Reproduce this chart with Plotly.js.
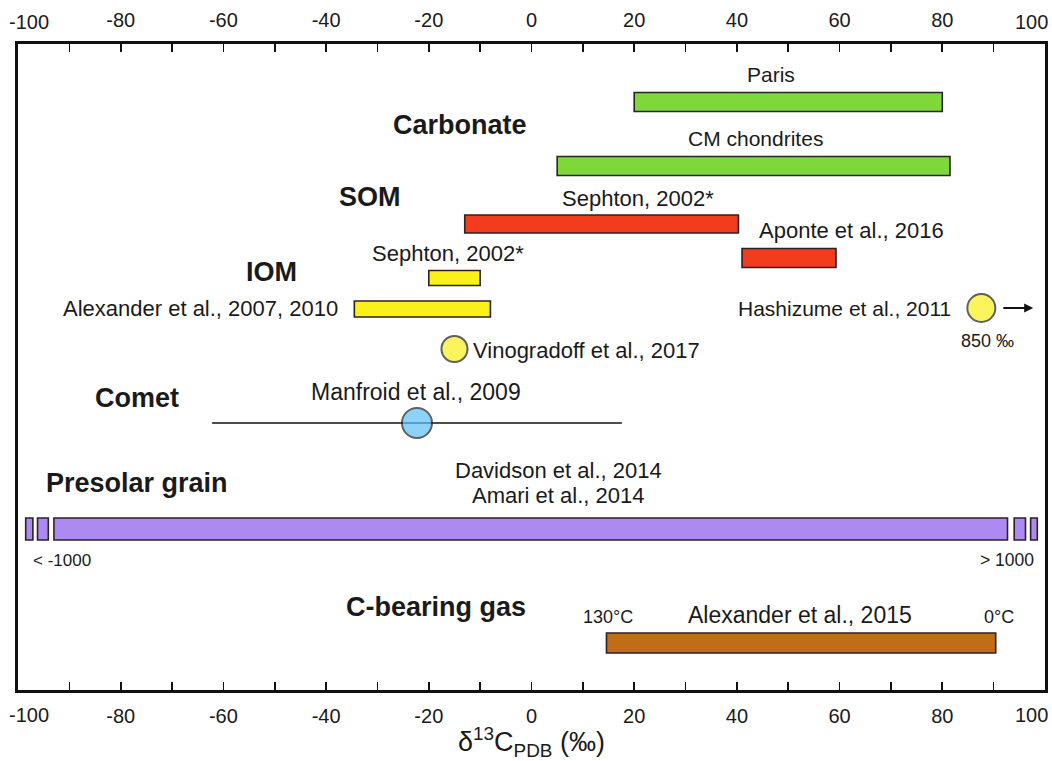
<!DOCTYPE html>
<html>
<head>
<meta charset="utf-8">
<script src="https://cdn.plot.ly/plotly-3.0.1.min.js"></script>
<style>html,body{margin:0;padding:0;background:#fff;}#chart{width:1052px;height:761px;}</style>
</head>
<body>
<div id="chart"></div>
<script>
// ---- data (δ13C ‰) ----
const rangeNames = ['Paris', 'CM chondrites', 'Sephton, 2002* (SOM)', 'Aponte et al., 2016',
  'Sephton, 2002* (IOM)', 'Alexander et al., 2007, 2010', 'Presolar grain', 'Alexander et al., 2015'];
const rangeStart = [20, 5, -13, 41, -20, -34.5, -93, 14.6];
const rangeEnd   = [80, 81.5, 40.3, 59.3, -10, -8, 92.7, 90.4];
const rangeRow   = [102, 166, 224, 258, 278, 309, 529, 643];
const rangeThick = [19, 19, 18, 19, 15, 16, 22, 20];
const rangeColor = ['#7ed83a', '#7ed83a', '#f23c1e', '#f23c1e', '#fbf019', '#fbf019', '#ad8af2', '#c06d16'];

// broken-axis stubs of the presolar grain range (< -1000 and > 1000)
const stubStart = [-98.5, -96.2, 94.0, 97.2];
const stubEnd   = [-97.1, -94.1, 96.2, 98.5];

// single-value points
const pointNames = ['Vinogradoff et al., 2017', 'Hashizume et al., 2011', 'Manfroid et al., 2009'];
const pointX     = [-15.0, 87.6, -22.3];
const pointRow   = [349, 308, 423];
const pointColor = ['#fbf019', '#fbf019', '#5ec0f6'];

// comet range (Manfroid et al., 2009)
const cometRange = [-62.2, 17.6];
const cometRow = 423;

// axis ticks
const tickVals = [-80, -60, -40, -20, 0, 20, 40, 60, 80];
const tickText = ['-80', '-60', '-40', '-20', '0', '20', '40', '60', '80'];
const endTickVals = [-100, 100];
const endTickText = ['-100', '100'];

// ---- traces ----
const traces = [];
traces.push({
  type: 'bar', orientation: 'h',
  base: rangeStart,
  x: rangeEnd.map((e, i) => e - rangeStart[i]),
  y: rangeRow, width: rangeThick,
  marker: {color: rangeColor, line: {color: '#2b2224', width: 1.6}},
  hovertext: rangeNames, hoverinfo: 'text', showlegend: false
});
traces.push({
  type: 'bar', orientation: 'h',
  base: stubStart,
  x: stubEnd.map((e, i) => e - stubStart[i]),
  y: stubStart.map(() => 529), width: stubStart.map(() => 22),
  marker: {color: '#ad8af2', line: {color: '#2b2224', width: 1.6}},
  hoverinfo: 'skip', showlegend: false
});
traces.push({
  type: 'scatter', mode: 'lines',
  x: cometRange, y: [cometRow, cometRow],
  line: {color: '#111', width: 1.6}, hoverinfo: 'skip', showlegend: false
});
traces.push({
  type: 'scatter', mode: 'markers',
  x: pointX, y: pointRow, text: pointNames, hoverinfo: 'text',
  marker: {color: pointColor, size: [26, 28, 30], line: {color: '#1e1e1e', width: 2}},
  showlegend: false
});
// invisible trace for top axis
traces.push({type: 'scatter', x: [-100, 100], y: [400, 400], xaxis: 'x2', mode: 'markers',
  marker: {opacity: 0}, hoverinfo: 'skip', showlegend: false});

// ---- annotations ----
const F = 'Liberation Sans, Arial, sans-serif';
function txt(text, x, y, size, opts) {
  return Object.assign({text: text, x: x, y: y, xref: 'x', yref: 'y', showarrow: false,
    font: {family: F, size: size, color: '#1a1a1a'}, xanchor: 'center', yanchor: 'middle'}, opts || {});
}
function bold(text, x, y) { return txt('<b>' + text + '</b>', x, y, 27); }
const ann = [
  txt('Paris', 46.6, 74, 21),
  bold('Carbonate', -14.0, 125),
  txt('CM chondrites', 43.7, 138, 21),
  bold('SOM', -31.5, 197),
  txt('Sephton, 2002*', 20.7, 198, 22),
  txt('Aponte et al., 2016', 62.4, 230, 22),
  bold('IOM', -50.6, 272),
  txt('Sephton, 2002*', -16.3, 253, 22),
  txt('Alexander et al., 2007, 2010', -37.3, 308, 22, {xanchor: 'right'}),
  txt('Vinogradoff et al., 2017', -11.8, 350, 22, {xanchor: 'left'}),
  txt('Hashizume et al., 2011', 82.1, 308, 21, {xanchor: 'right'}),
  txt('850 ‰', 88.8, 341, 18),
  bold('Comet', -76.8, 398),
  txt('Manfroid et al., 2009', -22.5, 392, 23),
  bold('Presolar grain', -76.9, 483),
  txt('Davidson et al., 2014', 5.2, 470, 22),
  txt('Amari et al., 2014', 5.2, 495, 22),
  txt('< -1000', -91.5, 560, 17),
  txt('> 1000', 92.6, 560, 17.5),
  bold('C-bearing gas', -18.6, 607),
  txt('130°C', 14.9, 617, 18),
  txt('Alexander et al., 2015', 52.3, 615, 23),
  txt('0°C', 91.1, 617, 18),
  {x: 97.7, y: 308, ax: 91.6, ay: 308, xref: 'x', yref: 'y', axref: 'x', ayref: 'y',
   showarrow: true, arrowhead: 2, arrowsize: 1, arrowwidth: 1.8, arrowcolor: '#111', text: ''}
];
// end tick labels (-100 / 100), drawn slightly inward as in the original, top and bottom
const endShift = [2.2, -2.6];
endTickVals.forEach((v, i) => {
  [1.034, -0.039].forEach(py => {
    ann.push({text: endTickText[i], x: v + endShift[i], y: py, xref: 'x', yref: 'paper',
      showarrow: false, xanchor: 'center', yanchor: 'middle',
      font: {family: F, size: 20, color: '#1a1a1a'}});
  });
});

const tickFont = {family: F, size: 20, color: '#1a1a1a'};
const axisCommon = {
  range: [-100, 100], tickmode: 'array', tickvals: tickVals, ticktext: tickText,
  ticks: 'inside', ticklen: 8, tickwidth: 1.6,
  tickcolor: '#111', showgrid: false, zeroline: false, showline: true, linewidth: 3,
  linecolor: '#111', tickfont: tickFont, ticklabelstandoff: 6,
  minor: {dtick: 10, tick0: 0, ticks: 'inside', ticklen: 8, tickwidth: 1.6, tickcolor: '#111'}
};

const layout = {
  width: 1052, height: 761,
  margin: {l: 18, r: 7, t: 44, b: 71},
  paper_bgcolor: '#fff', plot_bgcolor: '#fff',
  xaxis: Object.assign({}, axisCommon, {
    title: {text: 'δ<sup>13</sup>C<sub>PDB</sub> (‰)', standoff: 2,
      font: {family: F, size: 27, color: '#1a1a1a'}}
  }),
  xaxis2: Object.assign({}, axisCommon, {overlaying: 'x', side: 'top', matches: 'x'}),
  yaxis: {range: [690, 44], showticklabels: false, ticks: '', showgrid: false, zeroline: false,
    showline: true, mirror: true, linewidth: 3, linecolor: '#111'},
  annotations: ann,
  showlegend: false,
  barmode: 'overlay'
};

Plotly.newPlot('chart', traces, layout, {displayModeBar: false, staticPlot: true});
</script>
</body>
</html>
